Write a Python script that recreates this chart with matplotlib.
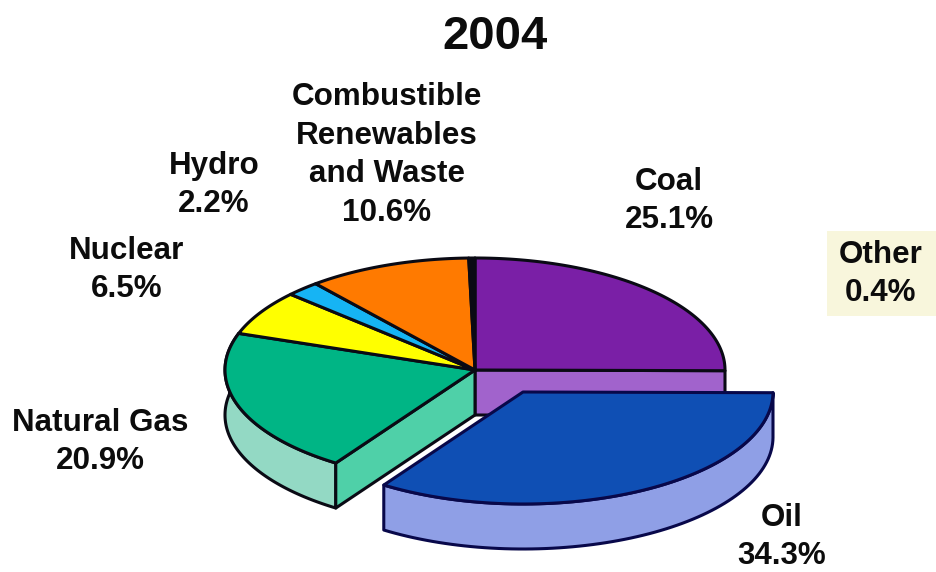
import numpy as np
import matplotlib
matplotlib.use('Agg')
import matplotlib.pyplot as plt
from matplotlib.patches import Polygon, Rectangle

plt.rcParams['font.family'] = ['Liberation Sans', 'DejaVu Sans']

# shares in order round the pie, clockwise from 12 o'clock
names = ['Coal', 'Oil', 'Natural Gas', 'Nuclear', 'Hydro', 'Combustible\nRenewables\nand Waste', 'Other']
shares = [25.1, 34.3, 20.9, 6.5, 2.2, 10.6, 0.4]
top_colors = ['#7a1fa6', '#0f4fb4', '#00b585', '#ffff00', '#16b4f4', '#ff7a00', '#0a0a14']
side_colors = ['#a163cc', '#8f9fe6', '#93d9c4', '#ffff00', '#16b4f4', '#ff7a00', '#a163cc']
cut_colors = {'Natural Gas': '#4fd0a8'}
label_pos = [(669, 201), (782, 537), (100, 442), (127, 270), (214, 185), (387, 155), (881, 274)]

# pie geometry, in image pixels
cx, cy = 475, 370
rx, ry = 250, 112
depth = 45
oil_shift = (48, 22)
line_dark = '#0a0a14'
line_oil = '#08084a'


def rim(a, dx=0, dy=0, d=0):
    # point on the ellipse at angle a (degrees), y goes down in the image
    a = np.radians(a)
    return np.column_stack([cx + dx + rx * np.cos(a), cy + dy + d - ry * np.sin(a)])


fig = plt.figure(figsize=(9.37, 5.72), dpi=100)
ax = fig.add_axes([0, 0, 1, 1])
ax.set_xlim(0, 937)
ax.set_ylim(572, 0)
ax.axis('off')

# wedge limits from the shares
angles = 90 - 3.6 * np.cumsum([0] + shares)
wedges = {n: (angles[i], angles[i + 1], top_colors[i], side_colors[i]) for i, n in enumerate(names)}


def patch(pts, color, edge, zorder):
    ax.add_patch(Polygon(pts, closed=True, facecolor=color, edgecolor=edge, linewidth=2.2,
                         joinstyle='round', zorder=zorder))


def arc(a0, a1, dx=0, dy=0, d=0):
    return rim(np.linspace(a0, a1, 80), dx, dy, d)


def center(dx=0, dy=0, d=0):
    return np.array([[cx + dx, cy + dy + d]])


# coal cut face, seen behind the pulled out oil slice
a0, a1, top, side = wedges['Coal']
face = np.vstack([center(), rim(a1), rim(a1, d=depth), center(d=depth)])
patch(face, side, line_dark, 1)

# natural gas outer wall and cut face
a0, a1, top, side = wedges['Natural Gas']
wall = np.vstack([arc(a0, a1), arc(a1, a0, d=depth)])
patch(wall, side, line_dark, 2)
face = np.vstack([center(), rim(a0), rim(a0, d=depth), center(d=depth)])
patch(face, cut_colors['Natural Gas'], line_dark, 2)

# top surfaces, all but the oil
for n, (a0, a1, top, side) in wedges.items():
    if n == 'Oil':
        continue
    patch(np.vstack([center(), arc(a0, a1)]), top, line_dark, 3)

# oil slice, moved out from the centre
a0, a1, top, side = wedges['Oil']
dx, dy = oil_shift
wall = np.vstack([arc(a0, a1, dx, dy), arc(a1, a0, dx, dy, depth)])
patch(wall, side, line_oil, 4)
patch(np.vstack([center(dx, dy), arc(a0, a1, dx, dy)]), top, line_oil, 5)

# the highlighted box behind the Other label
ax.add_patch(Rectangle((827, 231), 110, 85, facecolor='#f8f6dc', edgecolor='none', zorder=0))

for n, s, (x, y) in zip(names, shares, label_pos):
    ax.text(x, y, f'{n}\n{s}%', ha='center', va='center', fontsize=22.6, fontweight='bold',
            color='#0c0c0c', linespacing=1.38, zorder=6)

ax.text(495, 37, '2004', ha='center', va='center', fontsize=34, fontweight='bold', color='#0c0c0c')

plt.savefig('out.png', dpi=100)
